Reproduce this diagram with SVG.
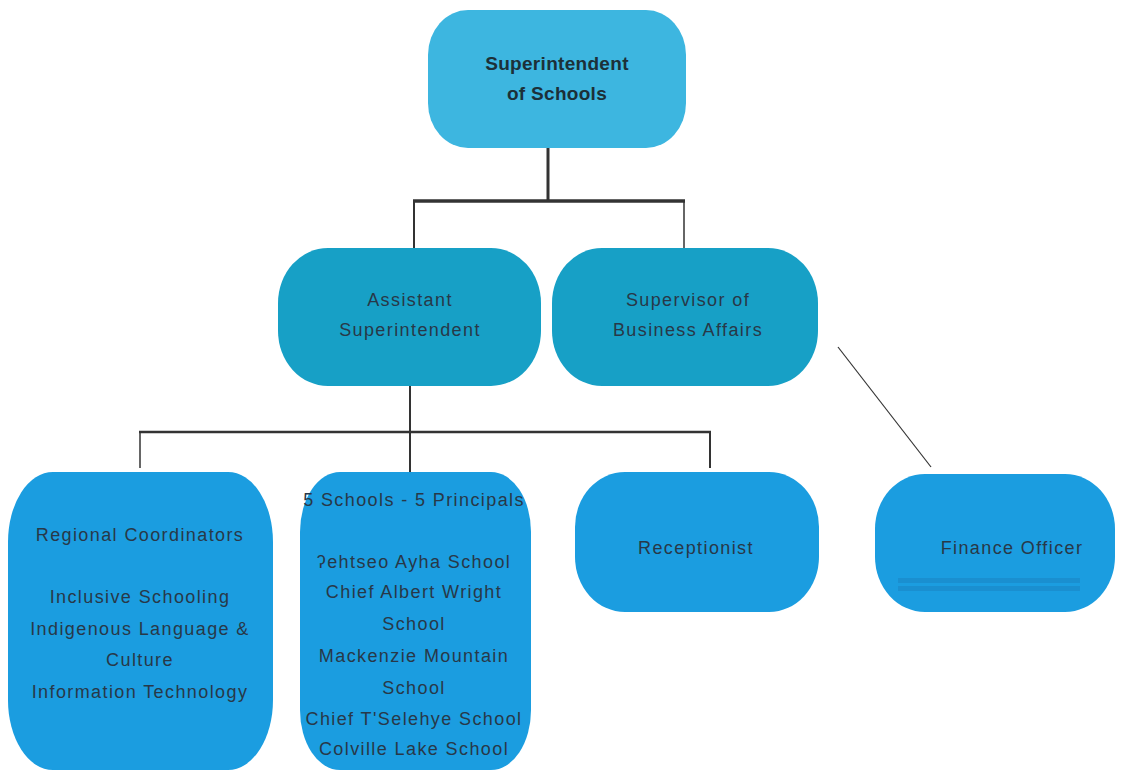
<svg xmlns="http://www.w3.org/2000/svg" width="1127" height="773" viewBox="0 0 1127 773">
<style>
  .t { font-family: "Liberation Sans", Arial, sans-serif; font-size: 18px; fill: #283848; text-anchor: middle; letter-spacing: 1.4px; }
  .tb { font-family: "Liberation Sans", Arial, sans-serif; font-size: 19px; font-weight: bold; fill: #1c3038; text-anchor: middle; letter-spacing: 0.3px; }
  .top { fill: #3db6e0; }
  .mid { fill: #17a0c6; }
  .low { fill: #1b9de0; }
  .c { stroke: #333; fill: none; }
</style>
<rect width="1127" height="773" fill="#ffffff"/>
<g id="connectors">
  <line class="c" x1="548" y1="148" x2="548" y2="201" stroke-width="3"/>
  <line class="c" x1="413" y1="201" x2="685" y2="201" stroke-width="3.5"/>
  <line class="c" x1="414" y1="201" x2="414" y2="250" stroke-width="2"/>
  <line class="c" x1="684" y1="201" x2="684" y2="248" stroke-width="1.5"/>
  <line class="c" x1="410" y1="386" x2="410" y2="472" stroke-width="2"/>
  <line class="c" x1="139" y1="432" x2="711" y2="432" stroke-width="2.5"/>
  <line class="c" x1="140" y1="432" x2="140" y2="468" stroke-width="1.5"/>
  <line class="c" x1="710" y1="432" x2="710" y2="468" stroke-width="2"/>
  <line class="c" x1="838" y1="347" x2="931" y2="467" stroke-width="1.2" stroke="#555"/>
</g>
<g id="superintendent">
  <rect class="top" x="428" y="10" width="258" height="138" rx="40" ry="45"/>
  <text class="tb" x="557" y="70">Superintendent</text>
  <text class="tb" x="557" y="100">of Schools</text>
</g>
<g id="assistant">
  <rect class="mid" x="278" y="248" width="263" height="138" rx="50" ry="55"/>
  <text class="t" x="410" y="306">Assistant</text>
  <text class="t" x="410" y="336">Superintendent</text>
</g>
<g id="supervisor">
  <rect class="mid" x="552" y="248" width="266" height="138" rx="50" ry="55"/>
  <text class="t" x="688" y="306">Supervisor of</text>
  <text class="t" x="688" y="336">Business Affairs</text>
</g>
<g id="regional">
  <rect class="low" x="8" y="472" width="265" height="298" rx="45" ry="70"/>
  <text class="t" x="140" y="541">Regional Coordinators</text>
  <text class="t" x="140" y="603">Inclusive Schooling</text>
  <text class="t" x="140" y="635">Indigenous Language &amp;</text>
  <text class="t" x="140" y="666">Culture</text>
  <text class="t" x="140" y="698">Information Technology</text>
</g>
<g id="schools">
  <rect class="low" x="300" y="472" width="231" height="298" rx="40" ry="60"/>
  <text class="t" x="414" y="506">5 Schools - 5 Principals</text>
  <text class="t" x="414" y="568">ʔehtseo Ayha School</text>
  <text class="t" x="414" y="598">Chief Albert Wright</text>
  <text class="t" x="414" y="630">School</text>
  <text class="t" x="414" y="662">Mackenzie Mountain</text>
  <text class="t" x="414" y="694">School</text>
  <text class="t" x="414" y="725">Chief T'Selehye School</text>
  <text class="t" x="414" y="755">Colville Lake School</text>
</g>
<g id="receptionist">
  <rect class="low" x="575" y="472" width="244" height="140" rx="50" ry="55"/>
  <text class="t" x="696" y="554">Receptionist</text>
</g>
<g id="finance">
  <rect class="low" x="875" y="474" width="240" height="138" rx="50" ry="55"/>
  <text class="t" x="1012" y="554">Finance Officer</text>
  <rect x="898" y="578" width="182" height="5" fill="#1a8fd0"/>
  <rect x="898" y="586" width="182" height="5" fill="#1a8fd0"/>
</g>
</svg>
